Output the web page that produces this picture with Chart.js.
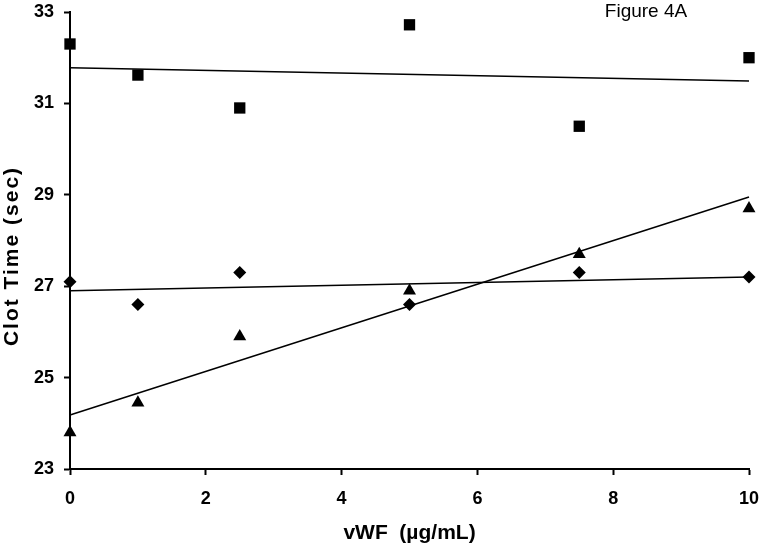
<!DOCTYPE html>
<html>
<head>
<meta charset="utf-8">
<script src="https://cdn.jsdelivr.net/npm/chart.js@4"></script>
<style>
  html, body { margin: 0; padding: 0; background: #fff; }
  #wrap { width: 762px; height: 547px; position: relative; }
</style>
</head>
<body>
<div id="wrap"><canvas id="clot-chart"></canvas></div>
<script>
// values
const doses = [0, 1, 2.5, 5, 7.5, 10];
const squareTimes = [32.3, 31.62, 30.9, 32.72, 30.5, 32.0];
const diamondTimes = [27.1, 26.6, 27.3, 26.6, 27.3, 27.2];
const triangleTimes = [23.8, 24.45, 25.9, 26.9, 27.7, 28.7];

// trend line ends at x = 0 and x = 10
const trendDoses = [0, 10];
const squareTrend = [31.78, 31.49];
const diamondTrend = [26.9, 27.2];
const triangleTrend = [24.18, 28.95];

const xTicks = [0, 2, 4, 6, 8, 10];
const yTicks = [23, 25, 27, 29, 31, 33];

const xTitle = "vWF  (µg/mL)";
const yTitle = "Clot Time (sec)";
const figureLabel = "Figure 4A";

const toPoints = (xs, ys) => xs.map((x, i) => ({ x, y: ys[i] }));

const markerSet = (values, style, radius) => ({
  type: "scatter",
  data: toPoints(doses, values),
  pointStyle: style,
  pointRadius: radius,
  pointHoverRadius: radius,
  backgroundColor: "#000",
  borderWidth: 0,
  clip: false,
});

const trendSet = (values) => ({
  type: "line",
  data: toPoints(trendDoses, values),
  borderColor: "#000",
  borderWidth: 1.5,
  pointRadius: 0,
  fill: false,
  tension: 0,
  clip: false,
});

// titles drawn by hand so they sit where the original put them
const textPlugin = {
  id: "figureText",
  afterDraw(chart) {
    const { ctx, chartArea } = chart;
    ctx.save();
    ctx.fillStyle = "#000";
    ctx.textAlign = "center";
    ctx.textBaseline = "middle";

    ctx.font = "19px 'Liberation Sans', Arial, sans-serif";
    ctx.fillText(figureLabel, 646, 12);

    ctx.font = "bold 21px 'Liberation Sans', Arial, sans-serif";
    ctx.fillText(xTitle, (chartArea.left + chartArea.right) / 2, 533);

    ctx.translate(12, 256);
    ctx.rotate(-Math.PI / 2);
    ctx.letterSpacing = "2px";
    ctx.fillText(yTitle, 0, 0);
    ctx.restore();
  },
};

const tickFont = { family: "'Liberation Sans', Arial, sans-serif", size: 18, weight: "bold" };

new Chart(document.getElementById("clot-chart"), {
  type: "scatter",
  data: {
    datasets: [
      markerSet(squareTimes, "rect", 8),
      markerSet(diamondTimes, "rectRot", 6.5),
      markerSet(triangleTimes, "triangle", 7.5),
      trendSet(squareTrend),
      trendSet(diamondTrend),
      trendSet(triangleTrend),
    ],
  },
  options: {
    responsive: true,
    maintainAspectRatio: false,
    devicePixelRatio: 1,
    animation: false,
    layout: { padding: { top: 12, right: 13, bottom: 0, left: 0 } },
    plugins: { legend: { display: false }, tooltip: { enabled: false } },
    scales: {
      x: {
        type: "linear",
        min: 0,
        max: 10,
        afterBuildTicks: (scale) => { scale.ticks = xTicks.map((v) => ({ value: v })); },
        afterFit: (scale) => {
          scale.height = 78;
          scale.paddingLeft = 0;
          scale.paddingRight = 0;
        },
        border: { color: "#000", width: 2 },
        grid: { drawOnChartArea: false, color: "#000", tickLength: 6, tickWidth: 2 },
        ticks: { color: "#000", font: tickFont, padding: 13, maxRotation: 0 },
      },
      y: {
        type: "linear",
        min: 23,
        max: 33,
        afterBuildTicks: (scale) => { scale.ticks = yTicks.map((v) => ({ value: v })); },
        afterFit: (scale) => {
          scale.width = 70;
          scale.paddingTop = 0;
          scale.paddingBottom = 0;
        },
        border: { color: "#000", width: 2 },
        grid: { drawOnChartArea: false, color: "#000", tickLength: 6, tickWidth: 2 },
        ticks: { color: "#000", font: tickFont, padding: 10 },
      },
    },
  },
  plugins: [textPlugin],
});
</script>
</body>
</html>
